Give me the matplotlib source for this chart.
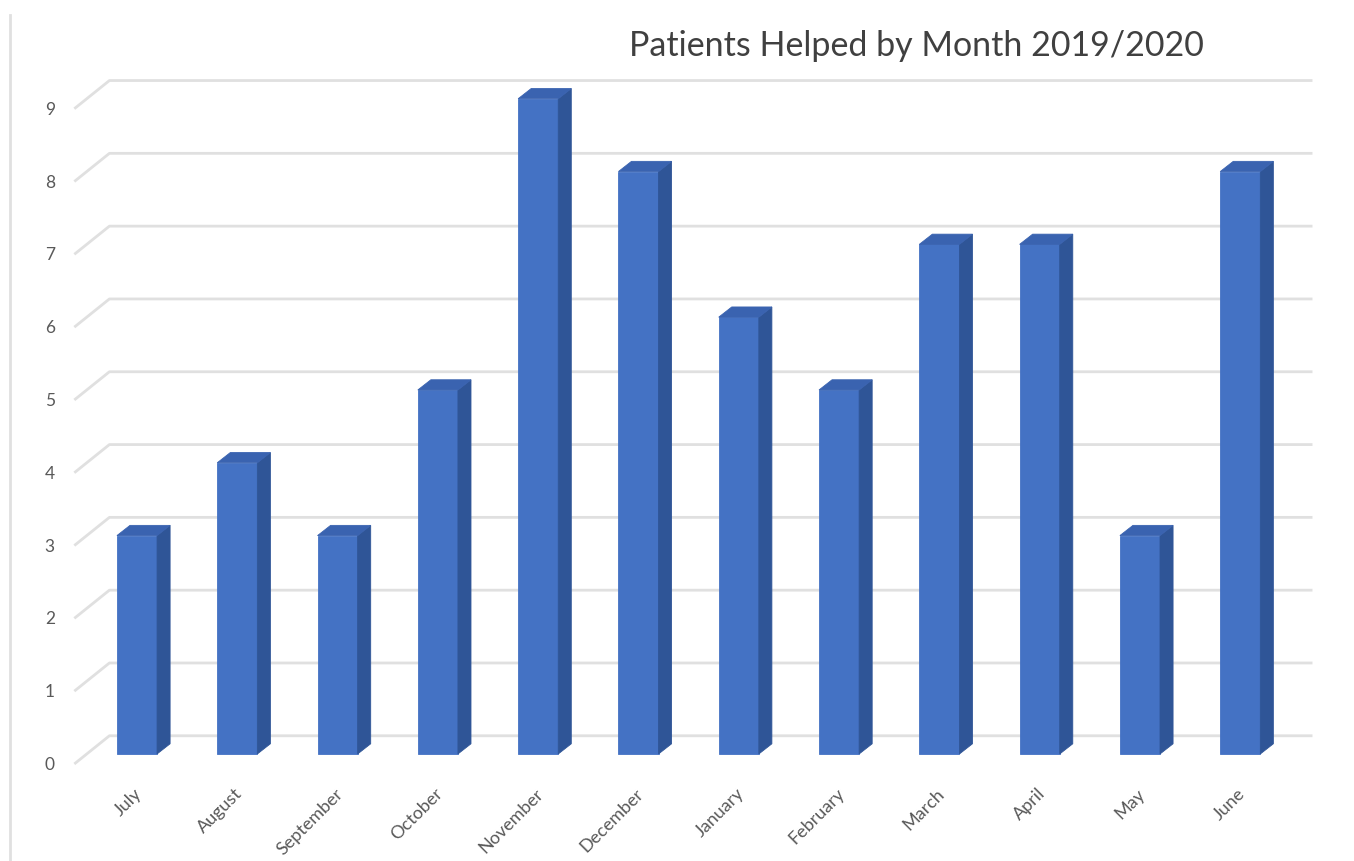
import numpy as np
import matplotlib.pyplot as plt
from matplotlib.patches import Polygon

# Data
months = ['July', 'August', 'September', 'October', 'November', 'December',
          'January', 'February', 'March', 'April', 'May', 'June']
patients = [3, 4, 3, 5, 9, 8, 6, 5, 7, 7, 3, 8]
yticks = list(range(0, 10))
title = 'Patients Helped by Month 2019/2020'

# Fake 3D geometry (category units / value units)
W = 0.40                 # front face width
SDX, SDY = 0.13, 0.14    # bar depth offset
WDX, WDY = 0.225, 0.25   # back wall offset from bar front plane
FDX, FDY = -0.125, -0.137  # floor front offset from bar front plane
front_c = '#4472C4'
side_c = '#2F5597'
top_c = '#3A63B0'
grid_c = '#E0E0E0'
text_c = '#595959'

plt.rcParams['font.family'] = ['Lato', 'DejaVu Sans']

fig = plt.figure(figsize=(13.54, 8.62), dpi=100)
ax = fig.add_axes([0, 0, 1, 1])
ax.set_xlim(-1.366, 12.134)
ax.set_ylim(-1.47, 10.37)
ax.axis('off')

n = len(months)
x_wall_end = n - 1 + 0.72

# gridlines: diagonal on the left side, then along the back wall
for v in yticks:
    x0 = -0.5 + FDX
    ax.plot([x0, -0.5 + WDX, x_wall_end], [v + FDY, v + WDY, v + WDY],
            color=grid_c, lw=2, solid_capstyle='butt', zorder=1)
    ax.text(-0.87, v + FDY, str(v), ha='center', va='center',
            fontsize=12.5, color=text_c)

# bars
for i, v in enumerate(patients):
    l, r = i - W / 2, i + W / 2
    front = Polygon([[l, 0], [r, 0], [r, v], [l, v]], closed=True,
                    fc=front_c, ec=front_c, lw=0.6, zorder=3)
    side = Polygon([[r, 0], [r + SDX, SDY], [r + SDX, v + SDY], [r, v]],
                   closed=True, fc=side_c, ec=side_c, lw=0.6, zorder=3)
    top = Polygon([[l, v], [r, v], [r + SDX, v + SDY], [l + SDX, v + SDY]],
                  closed=True, fc=top_c, ec=top_c, lw=0.6, zorder=3)
    for p in (front, side, top):
        ax.add_patch(p)

# month labels
for i, m in enumerate(months):
    ax.text(i - 0.03, -0.42, m, rotation=45, rotation_mode='anchor',
            ha='right', va='top', fontsize=13, color=text_c)

# title
ax.text(7.77, 9.74, title, ha='center', va='center', fontsize=24.5,
        color='#404040')

# chart border on the left
ax.plot([-1.266, -1.266], [-1.47, 10.15], color=grid_c, lw=2)

fig.savefig('out.png', dpi=100)
